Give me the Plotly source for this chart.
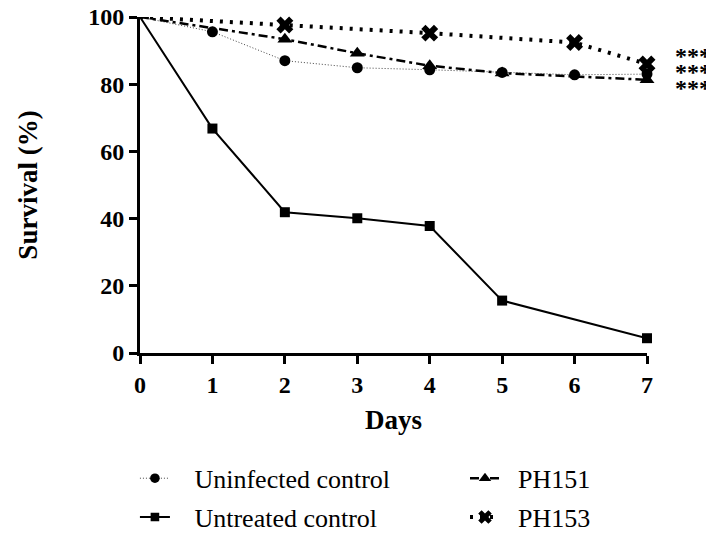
import plotly.graph_objects as go

days_uninfected = [0, 1, 2, 3, 4, 5, 6, 7]
surv_uninfected = [100, 95.6, 87.0, 84.9, 84.3, 83.5, 82.8, 83.0]

days_untreated = [0, 1, 2, 3, 4, 5, 7]
surv_untreated = [100, 66.8, 41.9, 40.1, 37.8, 15.6, 4.4]

days_ph151 = [0, 2, 3, 4, 5, 7]
surv_ph151 = [100, 93.4, 89.2, 85.5, 83.3, 81.3]

days_ph153 = [0, 2, 4, 6, 7]
surv_ph153 = [100, 97.6, 95.2, 92.4, 86.0]

x_ticks = [0, 1, 2, 3, 4, 5, 6, 7]
y_ticks = [0, 20, 40, 60, 80, 100]
sig_labels = ["***", "***", "***"]
sig_y = [88.4, 83.7, 79.0]

FONT = "Liberation Serif, Times New Roman, serif"
NB = "\u00a0"


def msizes(days, s):
    # no marker drawn at day 0 (all start at 100 %)
    return [0 if d == 0 else s for d in days]


fig = go.Figure()
fig.add_trace(go.Scatter(
    x=days_untreated, y=surv_untreated, name=NB * 3 + "Untreated control",
    legend="legend", legendrank=2, legendgroup="b",
    mode="lines+markers", cliponaxis=False,
    line=dict(color="black", width=2),
    marker=dict(symbol="square", size=msizes(days_untreated, 10), color="black",
                opacity=1, line=dict(width=0))))
fig.add_trace(go.Scatter(
    x=days_uninfected, y=surv_uninfected, name=NB * 3 + "Uninfected control",
    legend="legend", legendrank=1, legendgroup="a",
    mode="lines+markers", cliponaxis=False,
    line=dict(color="#444444", width=1, dash="1px,2px"),
    marker=dict(symbol="circle", size=msizes(days_uninfected, 11), color="black",
                opacity=1, line=dict(width=0))))
fig.add_trace(go.Scatter(
    x=days_ph151, y=surv_ph151, name=NB * 2 + "PH151",
    legend="legend2", legendrank=1, legendgroup="c",
    mode="lines+markers", cliponaxis=False,
    line=dict(color="black", width=2.5, dash="9px,4px,3px,4px"),
    marker=dict(symbol="triangle-up", size=msizes(days_ph151, 13), color="black",
                opacity=1, line=dict(width=0))))
fig.add_trace(go.Scatter(
    x=days_ph153, y=surv_ph153, name=NB * 2 + "PH153",
    legend="legend2", legendrank=2, legendgroup="d",
    mode="lines+markers", cliponaxis=False,
    line=dict(color="black", width=4, dash="3px,7px"),
    marker=dict(symbol="x", size=msizes(days_ph153, 15), color="black",
                opacity=1, line=dict(width=0))))

for txt, yv in zip(sig_labels, sig_y):
    fig.add_annotation(x=1.091, y=yv, xref="paper", yref="y", text=txt, showarrow=False,
                       xanchor="center", yanchor="middle", yshift=0,
                       font=dict(family=FONT, size=24, weight="bold", color="black"))

leg_common = dict(orientation="v", yanchor="top", xanchor="left", itemwidth=30,
                  font=dict(family=FONT, size=26, color="black"),
                  bgcolor="rgba(0,0,0,0)", tracegroupgap=2)

fig.update_layout(
    width=714, height=535,
    margin=dict(l=132, r=75, t=9, b=189.5, autoexpand=False),
    plot_bgcolor="white", paper_bgcolor="white",
    font=dict(family=FONT, color="black"),
    showlegend=True,
    legend=dict(x=-0.01, y=-0.303, **leg_common),
    legend2=dict(x=0.641, y=-0.303, **leg_common),
)
fig.update_xaxes(
    range=[0, 7], tickvals=x_ticks, ticktext=[str(v) for v in x_ticks],
    showline=True, linecolor="black", linewidth=3,
    ticks="outside", ticklen=8, tickwidth=3, tickcolor="black",
    showgrid=False, zeroline=False, ticklabeloverflow="allow",
    tickfont=dict(family=FONT, size=24, weight="bold", color="black"),
    title=dict(text="Days", standoff=14,
               font=dict(family=FONT, size=27, weight="bold", color="black")))
fig.update_yaxes(
    range=[0, 100], tickvals=y_ticks, ticktext=[str(v) for v in y_ticks],
    showline=True, linecolor="black", linewidth=3,
    ticks="outside", ticklen=8, tickwidth=3, tickcolor="black",
    showgrid=False, zeroline=False, ticklabeloverflow="allow",
    tickfont=dict(family=FONT, size=24, weight="bold", color="black"),
    title=dict(text="Survival (%)", standoff=43,
               font=dict(family=FONT, size=27, weight="bold", color="black")))

fig.write_html("out.html")
